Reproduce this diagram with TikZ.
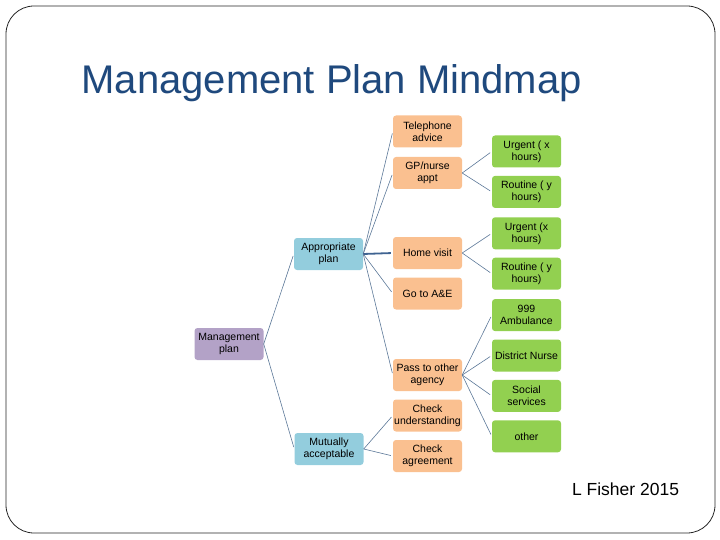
\documentclass[tikz,border=0pt]{standalone}
\usepackage{fontspec}
\setmainfont{Liberation Sans}
\usetikzlibrary{positioning}
\definecolor{titleblue}{HTML}{1F497D}
\definecolor{topfill}{HTML}{B3A2C7}
\definecolor{planfill}{HTML}{93CDDD}
\definecolor{stepfill}{HTML}{FAC090}
\definecolor{leaffill}{HTML}{92D050}
\definecolor{linkgray}{HTML}{5C7898}
\definecolor{linkdark}{HTML}{3F6391}

\begin{document}
\begin{tikzpicture}[
    x=1pt, y=-1pt,
    every node/.style={font=\fontsize{10.5}{12}\selectfont},
    box/.style={rounded corners=3pt, minimum width=69pt, minimum height=32pt,
                inner sep=1pt, align=center},
    top/.style={box, fill=topfill},
    plan/.style={box, fill=planfill},
    stepbox/.style={box, fill=stepfill},
    leaf/.style={box, fill=leaffill},
    link/.style={draw=linkgray, line width=0.6pt, shorten >=2pt}
]
    \useasboundingbox (0,0) rectangle (720,540);
    \draw[draw=black!85, line width=0.8pt, rounded corners=28pt] (6,6) rectangle (715,533);

    \node[anchor=base west, text=titleblue, font=\fontsize{40}{44}\selectfont]
        (title) at (78,94) {Management Plan Mindmap};

    \node[top] (mgmt) at (229,344) {Management\\plan};
    \node[plan] (appr) at (328.5,254) {Appropriate\\plan};
    \node[plan] (mutual) at (329,449) {Mutually\\acceptable};

    \node[stepbox] (tel) at (427.5,131.5) {Telephone\\advice};
    \node[stepbox] (gp) at (427.5,173) {GP/nurse\\appt};
    \node[stepbox] (home) at (427.5,253) {Home visit};
    \node[stepbox] (ae) at (427.5,293.5) {Go to A\&E};
    \node[stepbox] (pass) at (427.5,375) {Pass to other\\agency};
    \node[stepbox] (chku) at (427.5,415.5) {Check\\understanding};
    \node[stepbox] (chka) at (427.5,456) {Check\\agreement};

    \node[leaf] (urg1) at (526.5,151.5) {Urgent ( x\\hours)};
    \node[leaf, below=8pt of urg1] (rout1) {Routine ( y\\hours)};
    \node[leaf, below=9pt of rout1] (urg2) {Urgent (x\\hours)};
    \node[leaf, below=8pt of urg2] (rout2) {Routine ( y\\hours)};
    \node[leaf, below=9pt of rout2] (amb) {999\\Ambulance};
    \node[leaf, below=8pt of amb] (nurse) {District Nurse};
    \node[leaf, below=8pt of nurse] (social) {Social\\services};
    \node[leaf, below=8pt of social] (other) {other};

    \draw[link] (mgmt.east) -- (appr.west);
    \draw[link] (mgmt.east) -- (mutual.west);

    \draw[link] (appr.east) -- (tel.west);
    \draw[link] (appr.east) -- (gp.west);
    \draw[link, draw=linkdark, line width=1.8pt] (appr.east) -- (home.west);
    \draw[link] (appr.east) -- (ae.west);
    \draw[link] (appr.east) -- (pass.west);
    \draw[link] (mutual.east) -- (chku.west);
    \draw[link] (mutual.east) -- (chka.west);

    \draw[link] (gp.east) -- (urg1.west);
    \draw[link] (gp.east) -- (rout1.west);
    \draw[link] (home.east) -- (urg2.west);
    \draw[link] (home.east) -- (rout2.west);
    \draw[link] (pass.east) -- (amb.west);
    \draw[link] (pass.east) -- (nurse.west);
    \draw[link] (pass.east) -- (social.west);
    \draw[link] (pass.east) -- (other.west);

    \node[font=\fontsize{17.5}{20}\selectfont] (credit) at (625.5,489) {L Fisher 2015};
\end{tikzpicture}
\end{document}
